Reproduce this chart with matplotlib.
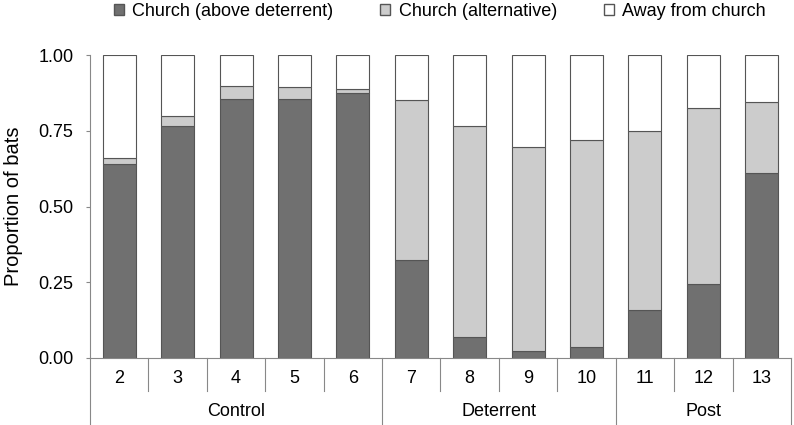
import matplotlib.pyplot as plt
import matplotlib.transforms as mtransforms
from matplotlib.patches import Patch

plt.rcParams["font.family"] = ["Liberation Sans", "DejaVu Sans"]

nights = ["2", "3", "4", "5", "6", "7", "8", "9", "10", "11", "12", "13"]
groups = ["Control", "Deterrent", "Post"]
group_sizes = [5, 4, 3]

above = [0.640, 0.766, 0.855, 0.855, 0.875, 0.323, 0.069, 0.023, 0.036, 0.158, 0.244, 0.611]
alternative = [0.020, 0.033, 0.043, 0.039, 0.013, 0.528, 0.697, 0.673, 0.683, 0.591, 0.581, 0.234]
away = [1 - a - b for a, b in zip(above, alternative)]

fig = plt.figure(figsize=(7.94, 4.25), dpi=100)
ax = fig.add_axes([90 / 794, 1 - 358 / 425, 701 / 794, 303 / 425])

x = list(range(len(nights)))
w = 0.565
edge = "#555555"
ax.bar(x, above, w, color="#707070", edgecolor=edge, linewidth=0.8)
ax.bar(x, alternative, w, bottom=above, color="#cccccc", edgecolor=edge, linewidth=0.8)
bottom2 = [a + b for a, b in zip(above, alternative)]
ax.bar(x, away, w, bottom=bottom2, color="white", edgecolor=edge, linewidth=0.8)

ax.set_xlim(-0.5, len(nights) - 0.5)
ax.set_ylim(0, 1)
ax.set_yticks([0, 0.25, 0.5, 0.75, 1.0])
ax.set_yticklabels(["0.00", "0.25", "0.50", "0.75", "1.00"])
ax.tick_params(axis="y", labelsize=13, length=3, color="#888888", pad=9)
ax.set_xticks([])
ax.set_ylabel("Proportion of bats", fontsize=14.5, labelpad=11)
for s in ["top", "right"]:
    ax.spines[s].set_visible(False)
for s in ["left", "bottom"]:
    ax.spines[s].set_color("#888888")
    ax.spines[s].set_linewidth(0.8)

# hierarchical category axis below
trans = mtransforms.blended_transform_factory(ax.transData, ax.transAxes)
for i, n in enumerate(nights):
    ax.text(i, -0.069, n, transform=trans, ha="center", va="center", fontsize=13)

bounds = [-0.5]
for g in group_sizes:
    bounds.append(bounds[-1] + g)
for i in range(len(nights) + 1):
    b = i - 0.5
    y_end = -0.218 if b in bounds else -0.109
    ax.plot([b, b], [0, y_end], transform=trans, color="#888888", lw=0.8, clip_on=False)
for g, lo, hi in zip(groups, bounds[:-1], bounds[1:]):
    ax.text((lo + hi) / 2, -0.178, g, transform=trans, ha="center", va="center", fontsize=13)

handles = [
    Patch(facecolor="#707070", edgecolor=edge, label="Church (above deterrent)"),
    Patch(facecolor="#cccccc", edgecolor=edge, label="Church (alternative)"),
    Patch(facecolor="white", edgecolor=edge, label="Away from church"),
]
fig.legend(handles=handles, loc="upper center", bbox_to_anchor=(0.554, 1.032), ncol=3,
           frameon=False, fontsize=13, handlelength=0.55, handleheight=0.55,
           handletextpad=0.45, columnspacing=2.6)

fig.savefig("out.png", dpi=100)
